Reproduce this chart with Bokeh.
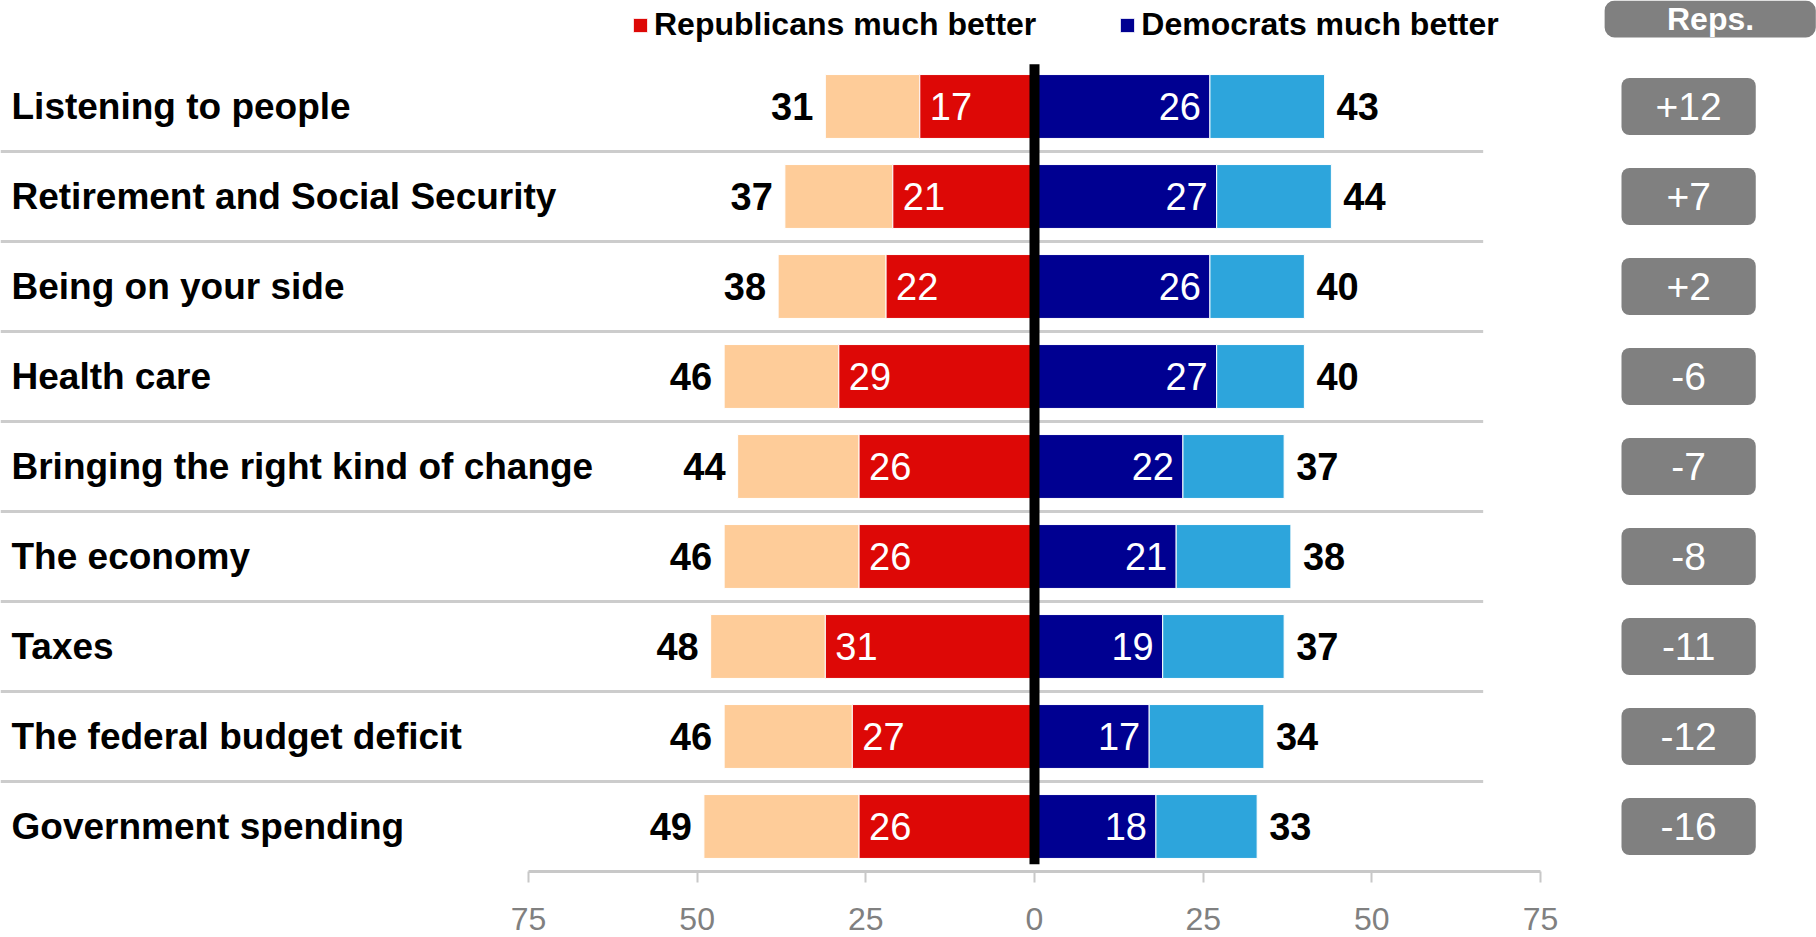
from bokeh.plotting import figure
from bokeh.models import (Range1d, FixedTicker, CustomJSTickFormatter, Legend,
                          LegendItem, ColumnDataSource)
from bokeh.core.properties import value
from bokeh.embed import file_html
from bokeh.resources import INLINE

# ---------------- data ----------------
categories = ["Listening to people", "Retirement and Social Security",
              "Being on your side", "Health care",
              "Bringing the right kind of change", "The economy", "Taxes",
              "The federal budget deficit", "Government spending"]
rep_much = [17, 21, 22, 29, 26, 26, 31, 27, 26]
rep_total = [31, 37, 38, 46, 44, 46, 48, 46, 49]
dem_much = [26, 27, 26, 27, 22, 21, 19, 17, 18]
dem_total = [43, 44, 40, 40, 37, 38, 37, 34, 33]
net_vs_reps = [12, 7, 2, -6, -7, -8, -11, -12, -16]
axis_ticks = [-75, -50, -25, 0, 25, 50, 75]
legend_labels = ["Republicans much better", "Democrats much better"]
net_header = "Reps."

# ---------------- styles ----------------
PEACH = "#FECC99"
RED = "#DD0806"
NAVY = "#000091"
LIGHTBLUE = "#2DA5DC"
GRAY_BOX = "#808080"
SEP = "#CCCCCC"
FONT = "Liberation Sans"

W, H = 1816, 937
PX_PER_UNIT = 6.747
ZERO_PX = 1034.0
ROW_PX = 90.0
ROW0_PX = 106.0
X0 = -ZERO_PX / PX_PER_UNIT
X1 = (W - ZERO_PX) / PX_PER_UNIT
Y_BOTTOM = (H - ROW0_PX) / ROW_PX
Y_TOP = -ROW0_PX / ROW_PX

n = len(categories)
ys = list(range(n))

src = ColumnDataSource(dict(
    y=ys,
    cat=categories,
    rep_much_neg=[-v for v in rep_much],
    rep_total_neg=[-v for v in rep_total],
    dem_much=dem_much,
    dem_total=dem_total,
    rep_much_txt=[str(v) for v in rep_much],
    rep_total_txt=[str(v) for v in rep_total],
    dem_much_txt=[str(v) for v in dem_much],
    dem_total_txt=[str(v) for v in dem_total],
    net_txt=[("+%d" % v) if v > 0 else str(v) for v in net_vs_reps],
))

p = figure(width=W, height=H, x_range=Range1d(X0, X1),
           y_range=Range1d(start=Y_BOTTOM, end=Y_TOP),
           output_backend="svg", toolbar_location=None,
           y_axis_location=None, min_border=0)
p.outline_line_color = None
p.xgrid.visible = False
p.ygrid.visible = False
p.background_fill_color = "white"
p.border_fill_color = "white"

BAR_H = 0.71

# separators between rows
sep_y = [i + 0.5 for i in range(n - 1)]
p.segment(x0=[X0] * len(sep_y), y0=sep_y, x1=[66.5] * len(sep_y), y1=sep_y,
          line_color=SEP, line_width=3)

# bars
p.hbar(y="y", left="rep_total_neg", right="rep_much_neg", height=BAR_H,
       fill_color=PEACH, line_color="white", line_width=1, source=src)
r_rep = p.hbar(y="y", left="rep_much_neg", right=0, height=BAR_H,
               fill_color=RED, line_color="white", line_width=1, source=src)
r_dem = p.hbar(y="y", left=0, right="dem_much", height=BAR_H,
               fill_color=NAVY, line_color="white", line_width=1, source=src)
p.hbar(y="y", left="dem_much", right="dem_total", height=BAR_H,
       fill_color=LIGHTBLUE, line_color="white", line_width=1, source=src)

# zero line
p.segment(x0=[0], y0=[-0.47], x1=[0], y1=[n - 1 + 0.42],
          line_color="black", line_width=10)

# category labels
p.text(x=[X0] * n, y=ys, text=categories, x_offset=11,
       text_align="left", text_baseline="middle",
       text_font=value(FONT), text_font_style="bold",
       text_font_size="37px", text_color="black")

# value labels
common = dict(y="y", source=src, text_baseline="middle",
              text_font=value(FONT), text_font_size="38px")
p.text(x="rep_total_neg", text="rep_total_txt", x_offset=-12,
       text_align="right", text_font_style="bold", text_color="black", **common)
p.text(x="rep_much_neg", text="rep_much_txt", x_offset=10,
       text_align="left", text_color="white", **common)
p.text(x="dem_much", text="dem_much_txt", x_offset=-9,
       text_align="right", text_color="white", **common)
p.text(x="dem_total", text="dem_total_txt", x_offset=12,
       text_align="left", text_font_style="bold", text_color="black", **common)

# net column boxes
p.hbar(y="y", left=87.0, right=106.9, height=0.633, fill_color=GRAY_BOX,
       line_color=None, border_radius=8, source=src)
p.text(x=96.95, y="y", text="net_txt", source=src, text_align="center",
       text_baseline="middle", text_font=value(FONT), text_font_size="39px",
       text_color="white")

# header box
p.hbar(y=[-1.2], left=84.5, right=115.8, height=0.866, fill_color=GRAY_BOX,
       line_color=None, border_radius=10)
p.text(x=[100.2], y=[-0.967], text=[net_header], text_align="center",
       text_baseline="middle", text_font=value(FONT),
       text_font_style="bold", text_font_size="32px", text_color="white")

# x axis (inside the frame)
ax = p.xaxis[0]
ax.fixed_location = n - 0.5
ax.ticker = FixedTicker(ticks=axis_ticks)
ax.bounds = (axis_ticks[0], axis_ticks[-1])
ax.formatter = CustomJSTickFormatter(code="return Math.abs(tick).toString();")
ax.axis_line_color = "#C8C8C8"
ax.axis_line_width = 3
ax.major_tick_line_color = "#C8C8C8"
ax.major_tick_line_width = 2
ax.major_tick_in = 0
ax.major_tick_out = 11
ax.minor_tick_line_color = None
ax.major_label_text_font = FONT
ax.major_label_text_font_size = "32px"
ax.major_label_text_color = "#808080"
ax.major_label_standoff = 25

# legend
legend = Legend(items=[LegendItem(label=legend_labels[0], renderers=[r_rep]),
                       LegendItem(label=legend_labels[1], renderers=[r_dem])],
                orientation="horizontal", location=(631, H - 43),
                glyph_width=18, glyph_height=18, label_standoff=5,
                spacing=82, padding=0, margin=0,
                border_line_color=None, background_fill_alpha=0,
                label_text_font=FONT, label_text_font_style="bold",
                label_text_font_size="32px", label_text_color="black")
p.add_layout(legend)

open("out.html", "w").write(file_html(p, INLINE, "chart"))
